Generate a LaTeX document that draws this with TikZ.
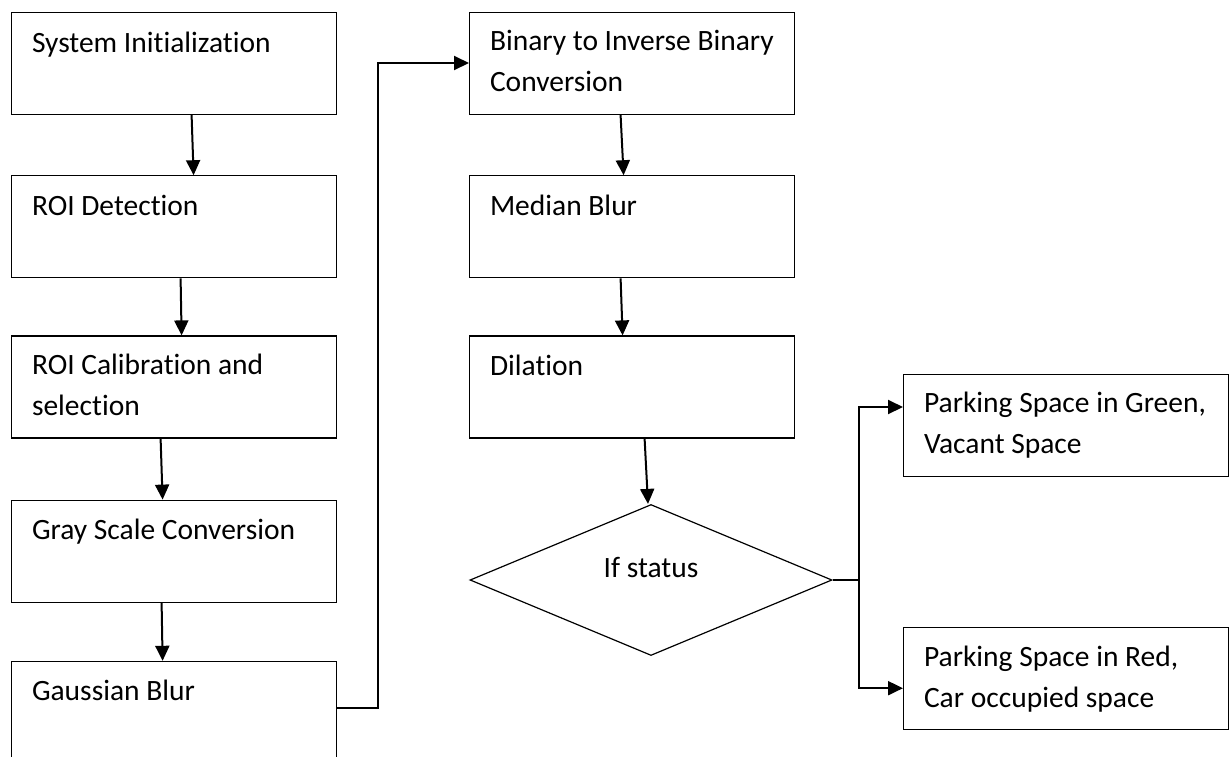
\documentclass[tikz,border=0pt]{standalone}
\usepackage{fontspec}
\setmainfont{Carlito}[Ligatures=NoCommon]
\usetikzlibrary{arrows.meta,positioning,shapes.geometric}

\tikzset{
  stage/.style={draw, line width=1.2pt, minimum width=325pt, minimum height=102pt, inner sep=0pt},
  txt/.style={anchor=north west, inner sep=0pt, xshift=20pt, yshift=-14pt, align=left,
    font=\fontsize{29.5}{41}\selectfont, execute at begin node={\rule{0pt}{25pt}}},
  txtii/.style={txt, yshift=-3.5pt},
  condtxt/.style={inner sep=0pt, yshift=13pt, font=\fontsize{29.5}{41}\selectfont},
}

\begin{document}
\begin{tikzpicture}[x=1pt, y=-1pt, >={Triangle[length=15pt,width=14pt]}, line width=2pt]
  \useasboundingbox (0,0) rectangle (1232,756);
  % left column
  \node[stage, anchor=north west, label={[txt]north west:System Initialization}] (init) at (11,12) {};
  \node[stage, below=60pt of init, label={[txt]north west:ROI Detection}] (roi) {};
  \node[stage, below=57pt of roi, label={[txtii]north west:ROI Calibration and\\selection}] (calib) {};
  \node[stage, below=61pt of calib, label={[txt]north west:Gray Scale Conversion}] (gray) {};
  \node[stage, below=58pt of gray, label={[txt]north west:Gaussian Blur}] (gauss) {};
  % middle column
  \node[stage, anchor=north west, label={[txtii]north west:Binary to Inverse Binary\\Conversion}] (binv) at (469,12) {};
  \node[stage, below=60pt of binv, label={[txt]north west:Median Blur}] (median) {};
  \node[stage, below=57pt of median, label={[txt]north west:Dilation}] (dil) {};
  \node[draw, diamond, line width=1.2pt, minimum width=362pt, minimum height=151pt, inner sep=0pt,
    label={[condtxt]center:If status}] (cond) at (651,580) {};
  % right column
  \node[stage, anchor=north west, label={[txtii]north west:Parking Space in Green,\\Vacant Space}] (green) at (903,374) {};
  \node[stage, below=150pt of green, label={[txtii]north west:Parking Space in Red,\\Car occupied space}] (red) {};

  \draw[->] ([xshift=17.5pt]init.south) -- ([xshift=19.5pt]roi.north);
  \draw[->] ([xshift=6.5pt]roi.south) -- ([xshift=7.5pt]calib.north);
  \draw[->] ([xshift=-13.5pt]calib.south) -- ([xshift=-11.5pt]gray.north);
  \draw[->] ([xshift=-12.5pt]gray.south) -- ([xshift=-11.5pt]gauss.north);
  \draw[->] ([yshift=-47pt]gauss.north east) -- ++(41,0) |- ([yshift=-51pt]binv.north west);
  \draw[->] ([xshift=-11.5pt]binv.south) -- ([xshift=-8.5pt]median.north);
  \draw[->] ([xshift=-11.5pt]median.south) -- ([xshift=-9.5pt]dil.north);
  \draw[->] ([xshift=12.5pt]dil.south) -- ([xshift=-3pt]cond.north);
  \draw[line width=1.2pt] (cond.east) -- ++(26,0) coordinate (fork);
  \draw[->] (fork) |- ([yshift=-33pt]green.north west);
  \draw[->] (fork) |- ([yshift=-61pt]red.north west);
\end{tikzpicture}
\end{document}
